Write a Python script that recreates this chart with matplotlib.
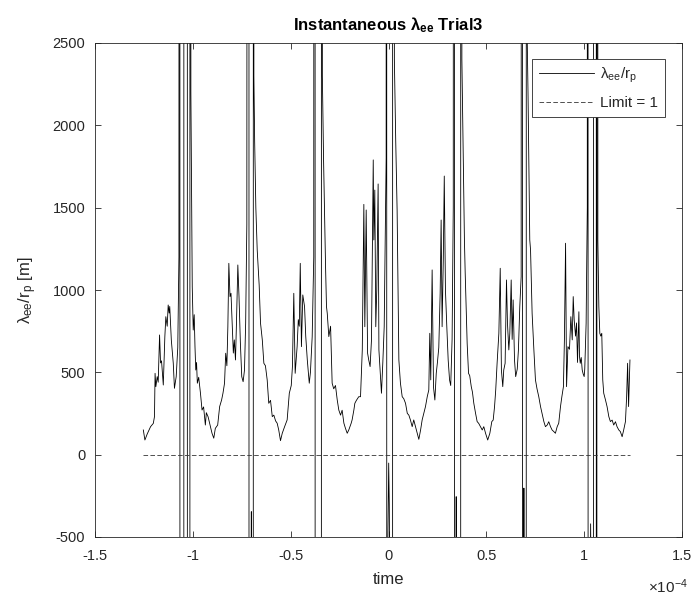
import numpy as np
import matplotlib.pyplot as plt
from matplotlib.ticker import FuncFormatter

# values far outside the y range: the ratio blows up where r_p crosses zero
OFF = 3.0e4

# time in units of 1e-4, ratio lambda_ee / r_p
seg_a_t = [-1.253, -1.245, -1.233, -1.216, -1.202, -1.196, -1.193, -1.189, -1.182, -1.177,
           -1.170, -1.165, -1.160, -1.151, -1.143, -1.138, -1.131, -1.126, -1.121, -1.118,
           -1.110, -1.100, -1.094, -1.085, -1.077, -1.071]
seg_a_v = [150, 89, 126, 170, 190, 231, 494, 413, 474, 440,
           727, 557, 570, 423, 717, 838, 780, 909, 860, 900,
           697, 555, 403, 474, 650, 1200]

sing1_t = [-1.067, -1.065, -1.047, -1.045, -1.029, -1.027, -1.016, -1.014]
sing1_v = [OFF, -OFF, -OFF, OFF, OFF, -OFF, -OFF, OFF]

seg_b_t = [-1.010, -1.006, -1.003, -0.998, -0.993, -0.989, -0.985, -0.981, -0.977, -0.970,
           -0.961, -0.953, -0.945, -0.936, -0.931, -0.922, -0.914, -0.902, -0.893, -0.885,
           -0.873, -0.863, -0.853, -0.846, -0.838, -0.832, -0.826, -0.821, -0.816, -0.810,
           -0.805, -0.798, -0.793, -0.788, -0.782, -0.777, -0.770, -0.764, -0.757, -0.750,
           -0.743, -0.736, -0.730, -0.724]
seg_b_v = [2200, 1500, 1020, 757, 850, 656, 514, 560, 434, 470,
           373, 271, 290, 180, 255, 230, 191, 130, 100, 160,
           180, 292, 332, 373, 434, 616, 540, 777, 1162, 960,
           980, 777, 617, 697, 575, 800, 1152, 960, 677, 474,
           443, 514, 800, 1400]

sing2_t = [-0.714, -0.712, -0.706, -0.701, -0.697, -0.692, -0.690]
sing2_v = [OFF, -OFF, -2000, -346, -2000, -OFF, OFF]

seg_c_t = [-0.688, -0.684, -0.678, -0.671, -0.661, -0.654, -0.645, -0.637, -0.629, -0.620,
           -0.612, -0.603, -0.594, -0.586, -0.577, -0.569, -0.561, -0.552, -0.543, -0.531,
           -0.518, -0.507, -0.497, -0.491, -0.484, -0.477, -0.467, -0.461, -0.456, -0.451,
           -0.445, -0.438, -0.429, -0.423, -0.415, -0.405, -0.399, -0.390, -0.382]
seg_c_v = [2300, 1900, 1500, 1243, 1030, 798, 697, 555, 540, 454,
           312, 330, 231, 240, 205, 191, 150, 85, 130, 170,
           211, 373, 420, 535, 980, 494, 656, 820, 780, 1162,
           656, 970, 899, 720, 575, 434, 500, 717, 1200]

sing3_t = [-0.376, -0.374, -0.344, -0.342]
sing3_v = [OFF, -OFF, -OFF, OFF]

seg_d_t = [-0.338, -0.332, -0.326, -0.322, -0.317, -0.313, -0.305, -0.296, -0.288, -0.280,
           -0.271, -0.262, -0.254, -0.245, -0.237, -0.228, -0.220, -0.211, -0.203, -0.191,
           -0.186, -0.177, -0.172, -0.164, -0.152, -0.143, -0.134, -0.126, -0.121, -0.114,
           -0.107, -0.101, -0.094, -0.087, -0.078, -0.075, -0.070, -0.065, -0.060, -0.053,
           -0.049, -0.042, -0.036, -0.029, -0.022, -0.012]
seg_d_v = [2300, 1800, 1400, 1160, 900, 858, 717, 780, 434, 400,
           420, 332, 271, 240, 270, 191, 160, 130, 150, 190,
           211, 271, 312, 330, 352, 352, 636, 1520, 777, 1486,
           617, 575, 535, 697, 1790, 1304, 1607, 777, 1000, 1644,
           636, 494, 373, 560, 777, 1800]

sing4_t = [-0.010, -0.008, -0.004, 0.001, 0.004, 0.010, 0.020, 0.022]
sing4_v = [OFF, -OFF, -600, -51, -300, -1500, -OFF, OFF]

seg_e_t = [0.030, 0.037, 0.044, 0.053, 0.061, 0.070, 0.078, 0.087, 0.096, 0.104,
           0.112, 0.121, 0.129, 0.138, 0.147, 0.155, 0.164, 0.172, 0.180, 0.189,
           0.198, 0.206, 0.211, 0.216, 0.223, 0.230, 0.237, 0.244, 0.250, 0.257,
           0.264, 0.269, 0.274, 0.280, 0.285, 0.291, 0.298, 0.305, 0.312, 0.318,
           0.325, 0.331]
seg_e_v = [2400, 1900, 1486, 575, 434, 352, 340, 312, 251, 240,
           211, 170, 211, 170, 130, 93, 150, 211, 250, 292,
           352, 393, 737, 454, 1122, 410, 332, 494, 560, 650,
           980, 1425, 777, 1183, 1692, 1000, 777, 575, 454, 420,
           700, 1500]

sing5_t = [0.336, 0.338, 0.342, 0.346, 0.350, 0.368, 0.370]
sing5_v = [OFF, -OFF, -1500, -255, -1500, -OFF, OFF]

seg_f_t = [0.375, 0.382, 0.388, 0.392, 0.402, 0.409, 0.415, 0.423, 0.429, 0.436,
           0.445, 0.453, 0.461, 0.470, 0.479, 0.487, 0.496, 0.507, 0.518, 0.528,
           0.535, 0.542, 0.548, 0.555, 0.564, 0.571, 0.577, 0.584, 0.589, 0.596,
           0.603, 0.608, 0.615, 0.620, 0.627, 0.632, 0.637, 0.644, 0.650, 0.658,
           0.664, 0.671, 0.678]
seg_f_v = [2400, 1800, 1304, 1101, 676, 494, 480, 413, 380, 312,
           251, 201, 190, 170, 150, 170, 130, 89, 130, 201,
           210, 292, 393, 555, 737, 1132, 514, 413, 514, 555,
           1061, 798, 636, 737, 1061, 700, 940, 575, 474, 520,
           636, 900, 1081]

sing6_t = [0.684, 0.686, 0.689, 0.692, 0.695, 0.703, 0.705]
sing6_v = [OFF, -OFF, -1500, -203, -1500, -OFF, OFF]

seg_g_t = [0.708, 0.713, 0.718, 0.722, 0.726, 0.734, 0.743, 0.751, 0.759, 0.768,
           0.777, 0.785, 0.794, 0.802, 0.811, 0.819, 0.828, 0.836, 0.845, 0.853,
           0.862, 0.870, 0.879, 0.886, 0.894, 0.899, 0.905, 0.910, 0.917, 0.925,
           0.932, 0.939, 0.944, 0.949, 0.956, 0.961, 0.966, 0.973, 0.976, 0.980,
           0.985, 0.990, 0.995, 1.000, 1.003, 1.010, 1.016]
seg_g_v = [2600, 2200, 1700, 1304, 1243, 858, 636, 454, 400, 352,
           292, 250, 201, 170, 180, 200, 170, 150, 140, 130,
           170, 191, 292, 352, 413, 697, 1284, 413, 656, 640,
           838, 697, 960, 818, 720, 800, 560, 868, 600, 555,
           590, 514, 490, 474, 520, 798, 1500]

sing7_t = [1.019, 1.021, 1.027, 1.033, 1.039, 1.047, 1.049, 1.061, 1.063, 1.064, 1.066]
sing7_v = [OFF, -OFF, -1500, -420, -1500, -OFF, OFF, OFF, -OFF, -OFF, OFF]

seg_h_t = [1.070, 1.075, 1.080, 1.085, 1.090, 1.095, 1.100, 1.109, 1.117, 1.126,
           1.134, 1.143, 1.151, 1.160, 1.168, 1.177, 1.185, 1.194, 1.202, 1.211,
           1.217, 1.222, 1.227, 1.234]
seg_h_v = [1300, 900, 737, 720, 737, 454, 373, 332, 292, 231,
           201, 210, 180, 200, 170, 150, 140, 109, 150, 201,
           352, 555, 292, 575]

limit_value = 1

time_e4 = np.concatenate([seg_a_t, sing1_t, seg_b_t, sing2_t, seg_c_t, sing3_t, seg_d_t,
                          sing4_t, seg_e_t, sing5_t, seg_f_t, sing6_t, seg_g_t, sing7_t, seg_h_t])
lam_rp = np.concatenate([seg_a_v, sing1_v, seg_b_v, sing2_v, seg_c_v, sing3_v, seg_d_v,
                         sing4_v, seg_e_v, sing5_v, seg_f_v, sing6_v, seg_g_v, sing7_v, seg_h_v])

# MATLAB-ish look
plt.rcParams['font.family'] = ['Liberation Sans', 'DejaVu Sans']
plt.rcParams['mathtext.default'] = 'regular'
plt.rcParams['axes.unicode_minus'] = False
dark = '#262626'

fig = plt.figure(figsize=(6.94, 6.01), dpi=100)
ax = fig.add_axes([95 / 694, 1 - 537 / 601, 587 / 694, 494 / 601])

ax.plot(time_e4, lam_rp, color='k', lw=0.6, label=r'$\lambda_{ee}/r_p$')
ax.plot([time_e4[0], time_e4[-1]], [limit_value, limit_value], color='#333333', lw=0.6,
        dashes=(5.5, 2.8), label='Limit = 1')

ax.set_xlim(-1.5, 1.5)
ax.set_ylim(-500, 2500)
ax.set_xticks(np.arange(-1.5, 1.51, 0.5))
ax.set_yticks(np.arange(-500, 2501, 500))
fmt = FuncFormatter(lambda v, p: '%g' % round(v, 6))
ax.xaxis.set_major_formatter(fmt)
ax.yaxis.set_major_formatter(fmt)
ax.tick_params(direction='in', length=4, width=0.6, colors=dark, labelsize=10.5,
               top=True, right=True)
ax.tick_params(axis='x', pad=9)
ax.tick_params(axis='y', pad=7)
for s in ax.spines.values():
    s.set_color(dark)
    s.set_linewidth(0.6)

ax.set_xlabel('time', fontsize=12, color=dark, labelpad=6)
ax.set_ylabel(r'$\lambda_{ee}/r_p$ [m]', fontsize=12, color=dark, labelpad=10)
ax.set_title(r'Instantaneous $\lambda_{ee}$ Trial3', fontsize=12, fontweight='bold',
             color='k', pad=9)
ax.text(0.942, -0.1, r'$\times10^{-4}$', transform=ax.transAxes, fontsize=11,
        color=dark, ha='left', va='center')

leg = ax.legend(loc='upper right', bbox_to_anchor=(0.971, 0.968), borderaxespad=0,
                fancybox=False, fontsize=11, handlelength=3.6, handletextpad=0.4,
                borderpad=0.45, labelspacing=0.75, framealpha=1)
leg.get_frame().set_edgecolor(dark)
leg.get_frame().set_linewidth(0.6)
for t in leg.get_texts():
    t.set_color(dark)

fig.savefig('out.png', dpi=100)
